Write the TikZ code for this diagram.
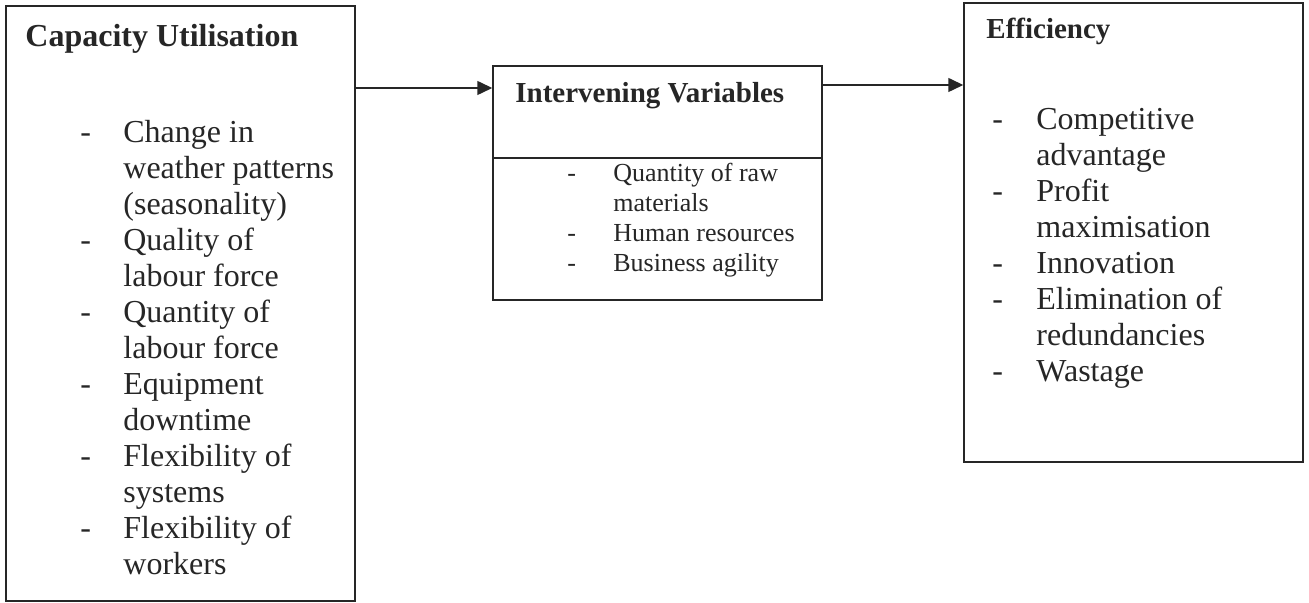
\documentclass[tikz,border=0pt]{standalone}
\usepackage{fontspec}
\setmainfont{Liberation Serif}
\usetikzlibrary{arrows.meta,positioning}

\begin{document}
\begin{tikzpicture}[
  x=0.5pt, y=-0.5pt,
  >={Triangle[length=7.5pt, width=7pt]},
  box/.style={draw=black!85, line width=0.75pt, inner sep=0pt},
  flow/.style={->, line width=0.75pt, black!85},
  head/.style={font=\fontsize{16}{18}\selectfont\bfseries, text=black!85,
               anchor=base west, inner sep=0pt},
  items/.style={font=\fontsize{16}{18}\selectfont, text=black!85,
                anchor=base west, inner sep=0pt},
]
\useasboundingbox (0,0) rectangle (1309,603);

% the three boxes
\node[box, minimum width=174.5pt, minimum height=297.5pt] (cap)   at (180.5,303.5) {};
\node[box, minimum width=164.5pt, minimum height=117pt]   (inter) at (657.5,183)   {};
\node[box, minimum width=169.5pt, minimum height=229.5pt] (eff)   at (1133.5,232.5) {};
\draw[line width=0.75pt, black!85] (inter.west |- 0,158) -- (inter.east |- 0,158);

\draw[flow] (cap.east |- 0,88) -- (inter.west |- 0,88);
\draw[flow] (inter.east |- 0,85) -- (eff.west |- 0,85);

% titles
\node[head] (capt) at (25,47) {Capacity Utilisation};
\node[head, font=\fontsize{14.5}{16}\selectfont\bfseries] (intt) at (515,103) {Intervening Variables};
\node[head, font=\fontsize{14.5}{16}\selectfont\bfseries] (efft) at (986,39) {Efficiency};

% lists
\node[items] (capl) at (80,143) {\begin{tabular}[t]{@{}p{21.5pt}@{}l@{}}
  - & Change in\\ & weather patterns\\ & (seasonality)\\
  - & Quality of\\ & labour force\\
  - & Quantity of\\ & labour force\\
  - & Equipment\\ & downtime\\
  - & Flexibility of\\ & systems\\
  - & Flexibility of\\ & workers
\end{tabular}};
\node[items, font=\fontsize{13}{15}\selectfont] (intl) at (567,182) {\begin{tabular}[t]{@{}p{23pt}@{}l@{}}
  - & Quantity of raw\\ & materials\\
  - & Human resources\\
  - & Business agility
\end{tabular}};
\node[items] (effl) at (992,130) {\begin{tabular}[t]{@{}p{22pt}@{}l@{}}
  - & Competitive\\ & advantage\\
  - & Profit\\ & maximisation\\
  - & Innovation\\
  - & Elimination of\\ & redundancies\\
  - & Wastage
\end{tabular}};
\end{tikzpicture}
\end{document}
